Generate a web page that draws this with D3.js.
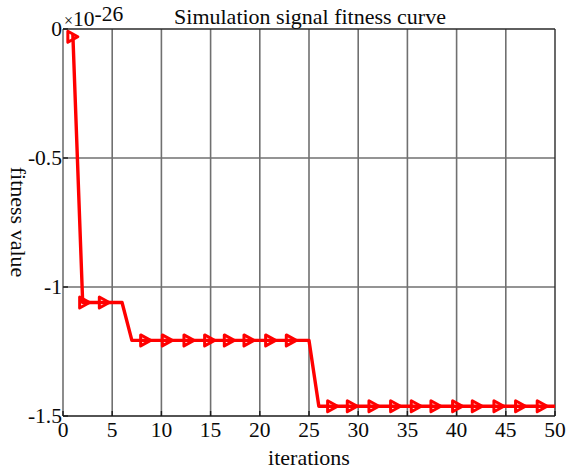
<!DOCTYPE html>
<html>
<head>
<meta charset="utf-8">
<script src="https://cdn.jsdelivr.net/npm/d3@7"></script>
<style>
  html, body { margin: 0; padding: 0; background: #fff; }
  svg { display: block; }
  text { font-family: "Liberation Serif", "Times New Roman", serif; fill: #0a0a0a; }
</style>
</head>
<body>
<svg id="chart" width="567" height="469"></svg>
<script>
// Fitness curve (values in units of 1e-26)
const lineX = [1, 2, 6, 7, 25, 26, 50];
const lineY = [-0.02, -1.06, -1.06, -1.207, -1.207, -1.462, -1.462];

// Marker positions along the curve
const markerX = [1, 2.2, 4.2, 8.4, 10.6, 12.8, 14.9, 16.9, 18.9, 21.1, 23.2,
                 27.4, 29.4, 31.6, 33.8, 35.9, 37.9, 40.1, 42.1, 44.3, 46.5, 48.7];
const markerY = [-0.03, -1.06, -1.06, -1.207, -1.207, -1.207, -1.207, -1.207, -1.207, -1.207, -1.207,
                 -1.462, -1.462, -1.462, -1.462, -1.462, -1.462, -1.462, -1.462, -1.462, -1.462, -1.462];

const xTicks = [0, 5, 10, 15, 20, 25, 30, 35, 40, 45, 50];
const yTicks = [0, -0.5, -1, -1.5];
const yTickLabels = ["0", "-0.5", "-1", "-1.5"];

const plotL = 63, plotR = 555, plotT = 29, plotB = 416;
const fs = 21.5;
const svg = d3.select("#chart");

const x = d3.scaleLinear().domain([0, 50]).range([plotL, plotR]);
const y = d3.scaleLinear().domain([-1.5, 0]).range([plotB, plotT]);

// Grid
svg.append("g").selectAll("line").data(xTicks.slice(1, -1)).join("line")
  .attr("x1", d => x(d)).attr("x2", d => x(d))
  .attr("y1", plotT).attr("y2", plotB)
  .attr("stroke", "#707070").attr("stroke-width", 1.6);
svg.append("g").selectAll("line").data(yTicks.slice(1, -1)).join("line")
  .attr("x1", plotL).attr("x2", plotR)
  .attr("y1", d => y(d)).attr("y2", d => y(d))
  .attr("stroke", "#707070").attr("stroke-width", 1.6);

// Axes box
svg.append("line").attr("x1", plotL).attr("x2", plotL).attr("y1", plotT).attr("y2", plotB)
  .attr("stroke", "#707070").attr("stroke-width", 1.6);
svg.append("line").attr("x1", plotR).attr("x2", plotR).attr("y1", plotT).attr("y2", plotB)
  .attr("stroke", "#2a2a2a").attr("stroke-width", 1.4);
svg.append("line").attr("x1", plotL).attr("x2", plotR).attr("y1", plotT).attr("y2", plotT)
  .attr("stroke", "#2a2a2a").attr("stroke-width", 1.4);
svg.append("line").attr("x1", plotL).attr("x2", plotR).attr("y1", plotB).attr("y2", plotB)
  .attr("stroke", "#1a1a1a").attr("stroke-width", 1.4);

// Tick marks (inward)
svg.append("g").selectAll("line").data(xTicks).join("line")
  .attr("x1", d => x(d)).attr("x2", d => x(d))
  .attr("y1", plotB).attr("y2", plotB - 5)
  .attr("stroke", "#1a1a1a").attr("stroke-width", 1.4);
svg.append("g").selectAll("line").data(yTicks).join("line")
  .attr("x1", plotL).attr("x2", plotL + 5)
  .attr("y1", d => y(d)).attr("y2", d => y(d))
  .attr("stroke", "#1a1a1a").attr("stroke-width", 1.4);

// Tick labels
svg.append("g").selectAll("text").data(xTicks).join("text")
  .attr("x", d => x(d)).attr("y", 437)
  .attr("text-anchor", "middle").attr("font-size", fs)
  .text(d => d);
svg.append("g").selectAll("text").data(yTicks).join("text")
  .attr("x", plotL - 1).attr("y", d => y(d) + 7)
  .attr("text-anchor", "end").attr("font-size", fs)
  .text((d, i) => yTickLabels[i]);

// Exponent label
const expo = svg.append("text").attr("x", 64).attr("y", 26).attr("font-size", fs);
expo.append("tspan").attr("font-size", 16).text("\u00d7");
expo.append("tspan").text("10");
expo.append("tspan").attr("dy", -5).text("-26");

// Title and axis labels
svg.append("text").attr("x", 310).attr("y", 24).attr("text-anchor", "middle")
  .attr("font-size", 22).text("Simulation signal fitness curve");
svg.append("text").attr("x", 309).attr("y", 465).attr("text-anchor", "middle")
  .attr("font-size", 22).text("iterations");
svg.append("text").attr("transform", "translate(11,222) rotate(90)")
  .attr("text-anchor", "middle").attr("font-size", 22).text("fitness value");

// Curve
const line = d3.line().x(d => x(d[0])).y(d => y(d[1]));
svg.append("path")
  .datum(lineX.map((v, i) => [v, lineY[i]]))
  .attr("d", line)
  .attr("fill", "none").attr("stroke", "#ff0000").attr("stroke-width", 3.4)
  .attr("stroke-linejoin", "round");

// Right-pointing triangle markers
const w = 10, h = 11;
svg.append("g").selectAll("path").data(markerX.map((v, i) => [v, markerY[i]])).join("path")
  .attr("transform", d => `translate(${x(d[0])},${y(d[1])})`)
  .attr("d", `M${-w/2},${-h/2}L${w/2},0L${-w/2},${h/2}Z`)
  .attr("fill", "none").attr("stroke", "#ff0000").attr("stroke-width", 3)
  .attr("stroke-linejoin", "round");
</script>
</body>
</html>
